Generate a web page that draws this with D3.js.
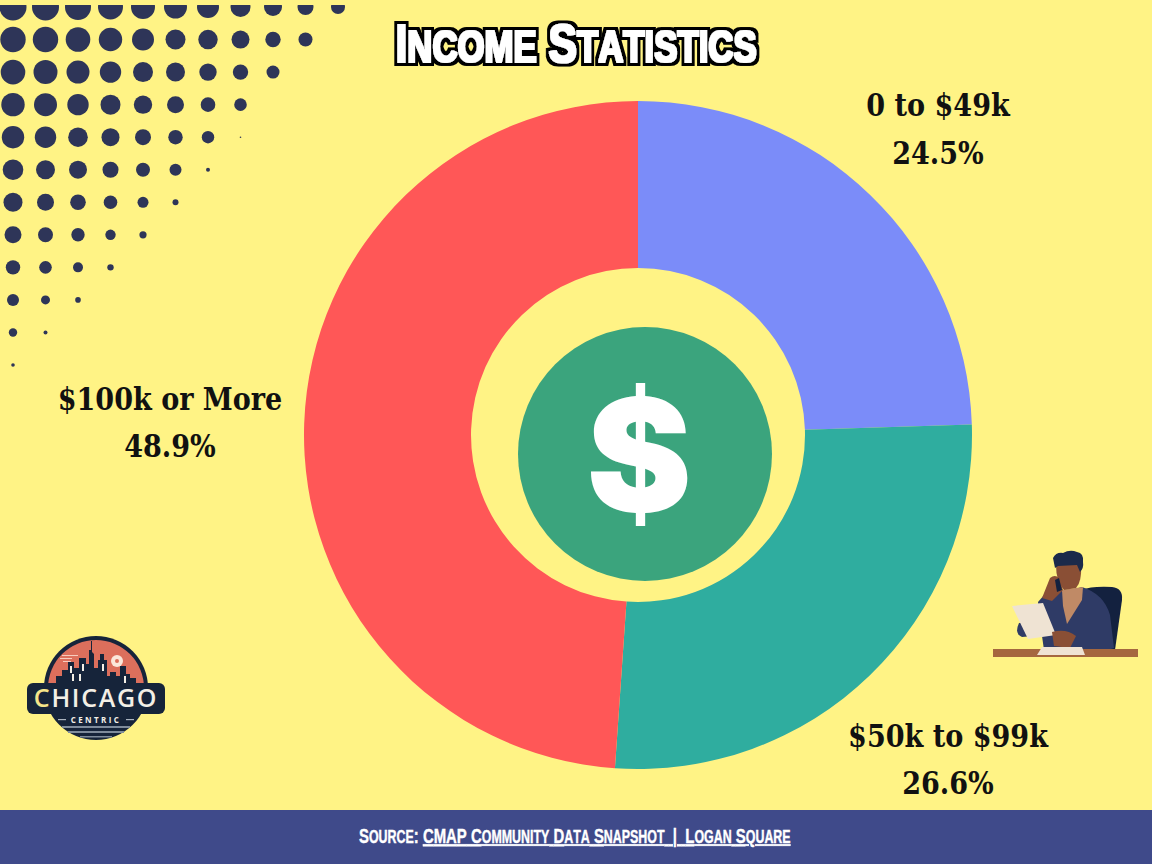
<!DOCTYPE html>
<html>
<head>
<meta charset="utf-8">
<script src="https://d3js.org/d3.v7.min.js"></script>
<style>
html, body { margin: 0; padding: 0; background: #fff385; }
svg { display: block; }
.lab { font-family: "DejaVu Serif Condensed", "DejaVu Serif", serif; font-weight: 700; font-size: 32px; fill: #111; text-anchor: middle; }
.narrow { font-family: "Liberation Sans", sans-serif; font-weight: 700; }
</style>
</head>
<body>
<svg id="chart" width="1152" height="864"></svg>
<script>
// chart values
var categories = ["0 to $49k", "$50k to $99k", "$100k or More"];
var shares = [24.5, 26.6, 48.9];
var colors = ["#7b8cf9", "#2fad9f", "#ff5757"];

// halftone corner, dot radius per row
var dotRows = [
  [13.5, 13.5, 13, 12.5, 12, 11.5, 11, 10, 9, 8, 7],
  [12.7, 12.7, 12.3, 11.7, 11, 10, 9.7, 9, 7.7, 7],
  [12.3, 12, 11.5, 10.7, 10, 9.5, 8.7, 7.7, 6.5],
  [11.7, 11.5, 10.7, 10, 9.2, 8.5, 7.3, 6.3],
  [11.2, 10.7, 9.8, 9, 8, 7.2, 6.2, 0.8],
  [10.3, 9.5, 9, 8, 7, 6, 2],
  [9.5, 8.5, 7.8, 6.8, 5.5, 3],
  [8.5, 7.5, 6.7, 5.2, 3.6],
  [7.2, 6.3, 5, 3.2],
  [6, 4.5, 2.8],
  [4.2, 2],
  [1.8]
];

var svg = d3.select("#chart");
svg.append("rect").attr("width", 1152).attr("height", 864).attr("fill", "#fff385");

// dots
svg.append("clipPath").attr("id", "topClip")
  .append("rect").attr("x", 0).attr("y", 5).attr("width", 1152).attr("height", 859);
var dotX = d3.scaleLinear().domain([0, 10]).range([13, 338]);
var dotY = d3.scaleLinear().domain([0, 11]).range([7, 365]);
var dots = svg.append("g").attr("clip-path", "url(#topClip)");
dotRows.forEach(function(row, j) {
  dots.selectAll(null).data(row).enter().append("circle")
    .attr("cx", function(d, i) { return dotX(i); })
    .attr("cy", dotY(j))
    .attr("r", function(d) { return d; })
    .attr("fill", "#2e3558");
});

// donut
var pie = d3.pie().sort(null).startAngle(0).endAngle(2 * Math.PI);
var arc = d3.arc().innerRadius(167).outerRadius(334);
svg.append("g").attr("transform", "translate(638,435)")
  .selectAll("path").data(pie(shares)).enter().append("path")
  .attr("d", arc)
  .attr("fill", function(d, i) { return colors[i]; });

// center badge
svg.append("circle").attr("cx", 645).attr("cy", 454).attr("r", 127).attr("fill", "#3ba47d");
svg.append("text").attr("x", 639).attr("y", 512)
  .attr("text-anchor", "middle")
  .style("font-family", "Inter").style("font-weight", 900).style("font-size", "158px")
  .attr("fill", "#fff").text("$");

// labels, squeezed a little
var labelAt = [[938, 116, 164], [948, 747, 794], [170, 410, 457]];
function label(x, y, str) {
  svg.append("text").attr("class", "lab")
    .attr("transform", "translate(" + x + "," + y + ") scale(0.94,1)").text(str);
}
categories.forEach(function(c, i) {
  label(labelAt[i][0], labelAt[i][1], c);
  label(labelAt[i][0], labelAt[i][2], shares[i] + "%");
});

// fake small caps: capitals big, the rest small upper case
function smallCaps(sel, str, big, small) {
  str.split("").forEach(function(ch) {
    sel.append("tspan")
      .style("font-size", (ch === ch.toUpperCase() ? big : small) + "px")
      .text(ch.toUpperCase());
  });
}

// title outline: fatten the white glyphs, then a black edge round them
var f = svg.append("filter").attr("id", "fat").attr("x", "-5%").attr("y", "-20%").attr("width", "110%").attr("height", "140%");
f.append("feMorphology").attr("in", "SourceGraphic").attr("operator", "dilate").attr("radius", "1.6 0.8").attr("result", "white");
f.append("feMorphology").attr("in", "SourceAlpha").attr("operator", "dilate").attr("radius", "5 3.6").attr("result", "edge");
var fm = f.append("feMerge");
fm.append("feMergeNode").attr("in", "edge");
fm.append("feMergeNode").attr("in", "white");

var title = svg.append("text").attr("class", "narrow")
  .attr("transform", "translate(576,62) scale(0.79,1)").attr("text-anchor", "middle")
  .attr("fill", "#fff").attr("filter", "url(#fat)");
smallCaps(title, "Income Statistics", 54, 44);

// footer
svg.append("rect").attr("y", 810).attr("width", 1152).attr("height", 54).attr("fill", "#3f4a8a");
var src = svg.append("text").attr("class", "narrow")
  .attr("transform", "translate(359,843) scale(0.71,1)")
  .attr("fill", "#fff").attr("stroke", "#fff").attr("stroke-width", 0.4).style("white-space", "pre");
smallCaps(src, "Source: ", 21, 17.5);
var link = src.append("tspan").style("text-decoration", "underline");
smallCaps(link, "CMAP Community Data Snapshot  |  Logan Square", 21, 17.5);

// logo
var logo = svg.append("g").attr("transform", "translate(96,688)");
var ink = "#16243a";
function lrect(x, y, w, h, fill) { logo.append("rect").attr("x", x).attr("y", y).attr("width", w).attr("height", h).attr("fill", fill); }
logo.append("circle").attr("r", 52).attr("fill", ink);
logo.append("path").attr("d", "M-48,0A48,48 0 0 1 48,0Z").attr("fill", "#dc6f5c");
logo.append("path").attr("d", "M-40,0V-12H-34V-18H-28V-26H-22V-20H-17V-30H-10V-24H-7V-38H-5V-47H-4V-36L-2,-34V-20H2V-28H4V-34H8V-28H11V-12H14V-16H20V-12H24V-22H30V-14H34V-10H40V0Z").attr("fill", ink);
[[-26, -22], [-14, -24], [-24, -14], [-17, -14], [6, -24], [28, -12]].forEach(function(p) {
  lrect(p[0], p[1], 2, 7, "#f3efe6");
});
[[-34, -33, 16], [-36, -30, 12], [-33, -27, 8]].forEach(function(p) {
  lrect(p[0], p[1], p[2], 1, "#f7cdbf");
});
logo.append("circle").attr("cx", 21).attr("cy", -27).attr("r", 6).attr("fill", "#fbe7da");
logo.append("circle").attr("cx", 21).attr("cy", -27).attr("r", 2).attr("fill", "#dc6f5c");
logo.append("rect").attr("x", -69).attr("y", -5).attr("width", 138).attr("height", 31).attr("rx", 6).attr("fill", ink);
var word = logo.append("text").attr("y", 19).attr("text-anchor", "middle")
  .style("font-family", "'Open Sans'").style("font-weight", 600).style("font-size", "25px")
  .attr("letter-spacing", 1.7).attr("fill", "#f3efe6");
word.append("tspan").attr("fill", "#f4e58a").text("C");
word.append("tspan").text("HICAGO");
logo.append("text").attr("y", 35).attr("text-anchor", "middle")
  .style("font-family", "'Open Sans'").style("font-weight", 700).style("font-size", "8px")
  .attr("letter-spacing", 2.4).attr("fill", "#f3efe6").text("CENTRIC");
lrect(-38, 31, 8, 1.2, "#aab3bf");
lrect(30, 31, 8, 1.2, "#aab3bf");
lrect(-34, 38, 68, 2, "#7f8c9c");
lrect(-28, 43, 56, 2, "#7f8c9c");
lrect(-16, 48, 32, 1.5, "#7f8c9c");

// man at the desk
var man = svg.append("g");
function shape(d, fill) { man.append("path").attr("d", d).attr("fill", fill); }
shape("M1083,590Q1090,586 1112,587Q1123,588 1122,600L1115,650H1092Z", "#13213f");
shape("M1038,602L1052,586L1064,592L1082,587Q1104,594 1110,615L1114,648L1098,653L1044,650L1040,622Z", "#2f3b66");
shape("M1062,590L1083,587L1082,600L1067,624L1063,606Z", "#c08a66");
shape("M1056,565Q1068,558 1081,565Q1082,582 1076,588L1064,590Q1056,582 1056,565Z", "#8a4f35");
shape("M1053,558Q1056,552 1063,553Q1070,549 1077,552Q1084,553 1083,562Q1084,568 1080,572L1077,565L1058,566L1055,568Z", "#1b2a4a");
shape("M1050,578Q1055,574 1059,578L1063,590L1052,601L1042,598Z", "#8a4f35");
shape("M1055,580L1059,578L1062,590L1057,592Z", "#13213f");
shape("M1019,623Q1014,634 1022,637L1034,636L1028,622Z", "#2f3b66");
shape("M1012,606L1043,603L1056,635L1028,639Z", "#efe3d3");
shape("M1052,632Q1066,628 1076,636L1070,648L1054,646Z", "#8a4f35");
man.append("rect").attr("x", 993).attr("y", 649).attr("width", 145).attr("height", 8).attr("fill", "#a5673f");
shape("M1042,647H1082L1085,655H1037Z", "#efe3d3");
</script>
</body>
</html>
